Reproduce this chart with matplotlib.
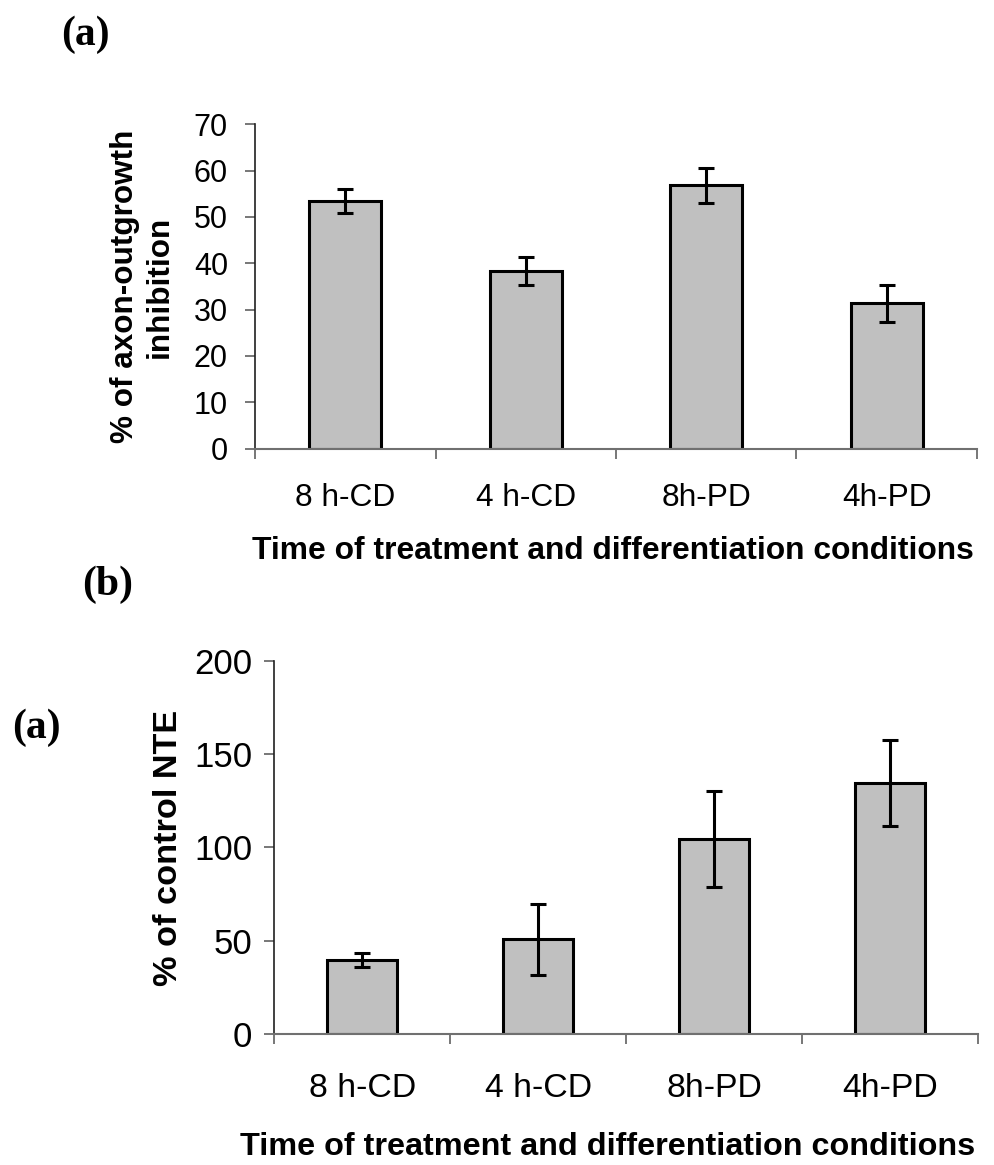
import matplotlib
matplotlib.use("Agg")
import matplotlib.pyplot as plt
import numpy as np

# data
conditions = ["8 h-CD", "4 h-CD", "8h-PD", "4h-PD"]
inhibition = [53.4, 38.4, 56.8, 31.4]
inhibition_err = [2.6, 3.0, 3.8, 4.0]
nte = [39.8, 51.0, 104.7, 134.4]
nte_err = [3.6, 19.0, 25.7, 23.0]

plt.rcParams['font.family'] = ['Liberation Sans', 'DejaVu Sans']

fig = plt.figure(figsize=(9.95, 11.65), dpi=100)
ax1 = fig.add_axes([0.2563, 0.6149, 0.7256, 0.2784])
ax2 = fig.add_axes([0.2757, 0.1122, 0.7072, 0.3207])


def style_panel(ax, vals, errs, ymax, ystep, ysize, xsize, ypad, xpad):
    x = np.arange(len(vals)) + 0.5
    ax.bar(x, vals, width=0.4, color='#c0c0c0', edgecolor='black', linewidth=2.2, zorder=2)
    ax.errorbar(x, vals, yerr=errs, fmt='none', ecolor='black', elinewidth=2.2,
                capsize=5.8, capthick=2.2, zorder=3)
    ax.set_xlim(0, len(vals))
    ax.set_ylim(0, ymax)
    ax.set_yticks(np.arange(0, ymax + 1, ystep))
    ax.set_xticks(np.arange(0, len(vals) + 1))
    ax.set_xticklabels([])
    ax.set_xticks(x, minor=True)
    ax.set_xticklabels(conditions, minor=True, fontsize=xsize)
    ax.tick_params(axis='x', which='minor', length=0, pad=xpad)
    ax.tick_params(axis='x', which='major', length=7.5, width=1.2, color='#606060')
    ax.tick_params(axis='y', length=7.5, width=1.2, color='#606060', labelsize=ysize, pad=ypad)
    for s in ['top', 'right']:
        ax.spines[s].set_visible(False)
    ax.spines['left'].set_color('#202020')
    ax.spines['left'].set_linewidth(1.2)
    ax.spines['bottom'].set_color('#707070')
    ax.spines['bottom'].set_linewidth(1.5)
    ax.spines['bottom'].set_zorder(4)


style_panel(ax1, inhibition, inhibition_err, 70, 10, 22, 22.8, 12, 25)
style_panel(ax2, nte, nte_err, 200, 50, 25, 24.3, 8.5, 28)

ax1.set_ylabel("% of axon-outgrowth\ninhibition", fontsize=22.7, fontweight='bold',
               va='center', linespacing=1.2)
ax1.yaxis.set_label_coords(-0.156, 0.5)
ax1.set_xlabel("Time of treatment and differentiation conditions", fontsize=22.9,
               fontweight='bold', va='top')
ax1.xaxis.set_label_coords(0.495, -0.268)

ax2.set_ylabel("% of control NTE", fontsize=24.7, fontweight='bold', va='center')
ax2.yaxis.set_label_coords(-0.150, 0.5)
ax2.set_xlabel("Time of treatment and differentiation conditions", fontsize=23.3,
               fontweight='bold', va='top')
ax2.xaxis.set_label_coords(0.4735, -0.262)

serif = ['Liberation Serif', 'DejaVu Serif']
fig.text(85 / 995, 1 - 45 / 1165, "(a)", family=serif, fontsize=30, fontweight='bold',
         ha='center', va='baseline')
fig.text(108 / 995, 1 - 595 / 1165, "(b)", family=serif, fontsize=30, fontweight='bold',
         ha='center', va='baseline')
fig.text(36 / 995, 1 - 738 / 1165, "(a)", family=serif, fontsize=30, fontweight='bold',
         ha='center', va='baseline')

fig.savefig("out.png", dpi=100)
